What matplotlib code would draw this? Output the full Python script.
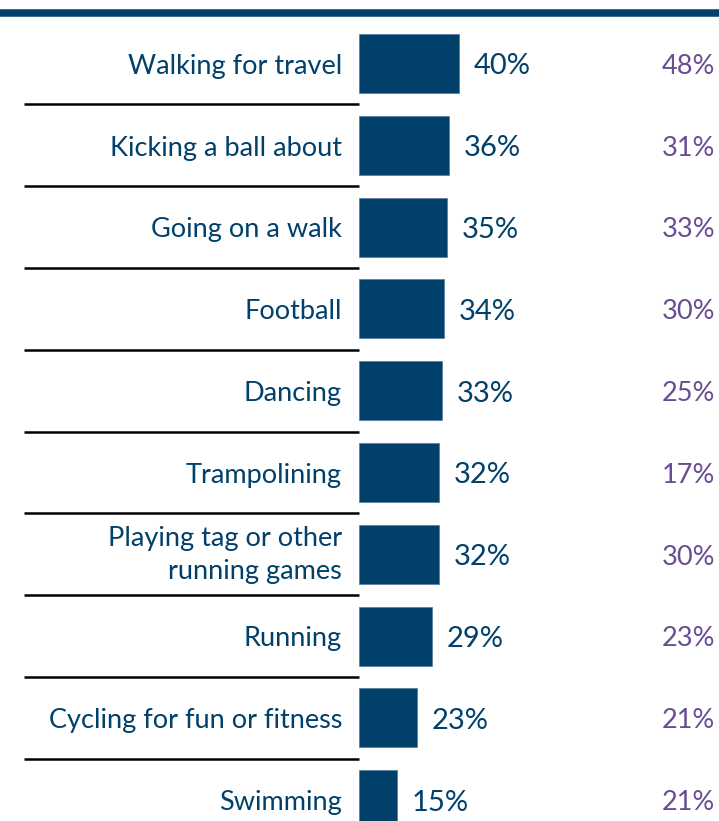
import matplotlib
matplotlib.use("Agg")
import matplotlib.pyplot as plt
from matplotlib.lines import Line2D

categories = ["Walking for travel", "Kicking a ball about", "Going on a walk", "Football",
              "Dancing", "Trampolining", "Playing tag or other\nrunning games", "Running",
              "Cycling for fun or fitness", "Swimming"]
values = [40, 36, 35, 34, 33, 32, 32, 29, 23, 15]
compare = [48, 31, 33, 30, 25, 17, 30, 23, 21, 21]

NAVY = "#00406B"
PURPLE = "#6A4C93"
FONT = "Lato"

W, H = 719, 821
fig = plt.figure(figsize=(W / 100, H / 100), dpi=100)
plt.rcParams['font.family'] = [FONT, 'DejaVu Sans']

ppu = 2.5  # px per percent
row_h = 81.8
top_px = 22.6
ax_left = 359
ax = fig.add_axes([ax_left / W, 0, (W - ax_left) / W, (H - top_px) / H])
ax.set_xlim(0, (W - ax_left) / ppu)
ax.set_ylim(-0.5 + (H - top_px) / row_h, -0.5)
ax.axis("off")

y = list(range(len(categories)))
ax.barh(y, values, height=0.72, color=NAVY, edgecolor="#5a7fa0", linewidth=0.6)

dy = 0.035
for i, (c, v, p) in enumerate(zip(categories, values, compare)):
    off = dy if "\n" not in c else 0.01
    ax.text(-(ax_left - 342) / ppu, i + off, c, ha="right", va="center", fontsize=19.5,
            color=NAVY, linespacing=1.4, clip_on=False)
    ax.text(v + 15 / ppu, i + dy, f"{v}%", ha="left", va="center", fontsize=21, color=NAVY)
    ax.text((715 - ax_left) / ppu, i + dy, f"{p}%", ha="right", va="center", fontsize=19.5, color=PURPLE)

for i in range(len(categories) - 1):
    ax.plot([-(ax_left - 24) / ppu, 0], [i + 0.5, i + 0.5], color="black", lw=1.8,
            clip_on=False, solid_capstyle="butt")

fig.add_artist(Line2D([0, 1], [1 - 13.3 / H, 1 - 13.3 / H], transform=fig.transFigure,
                      color=NAVY, lw=7.5 * 72 / 100, solid_capstyle="butt"))

fig.savefig("out.png", dpi=100)
